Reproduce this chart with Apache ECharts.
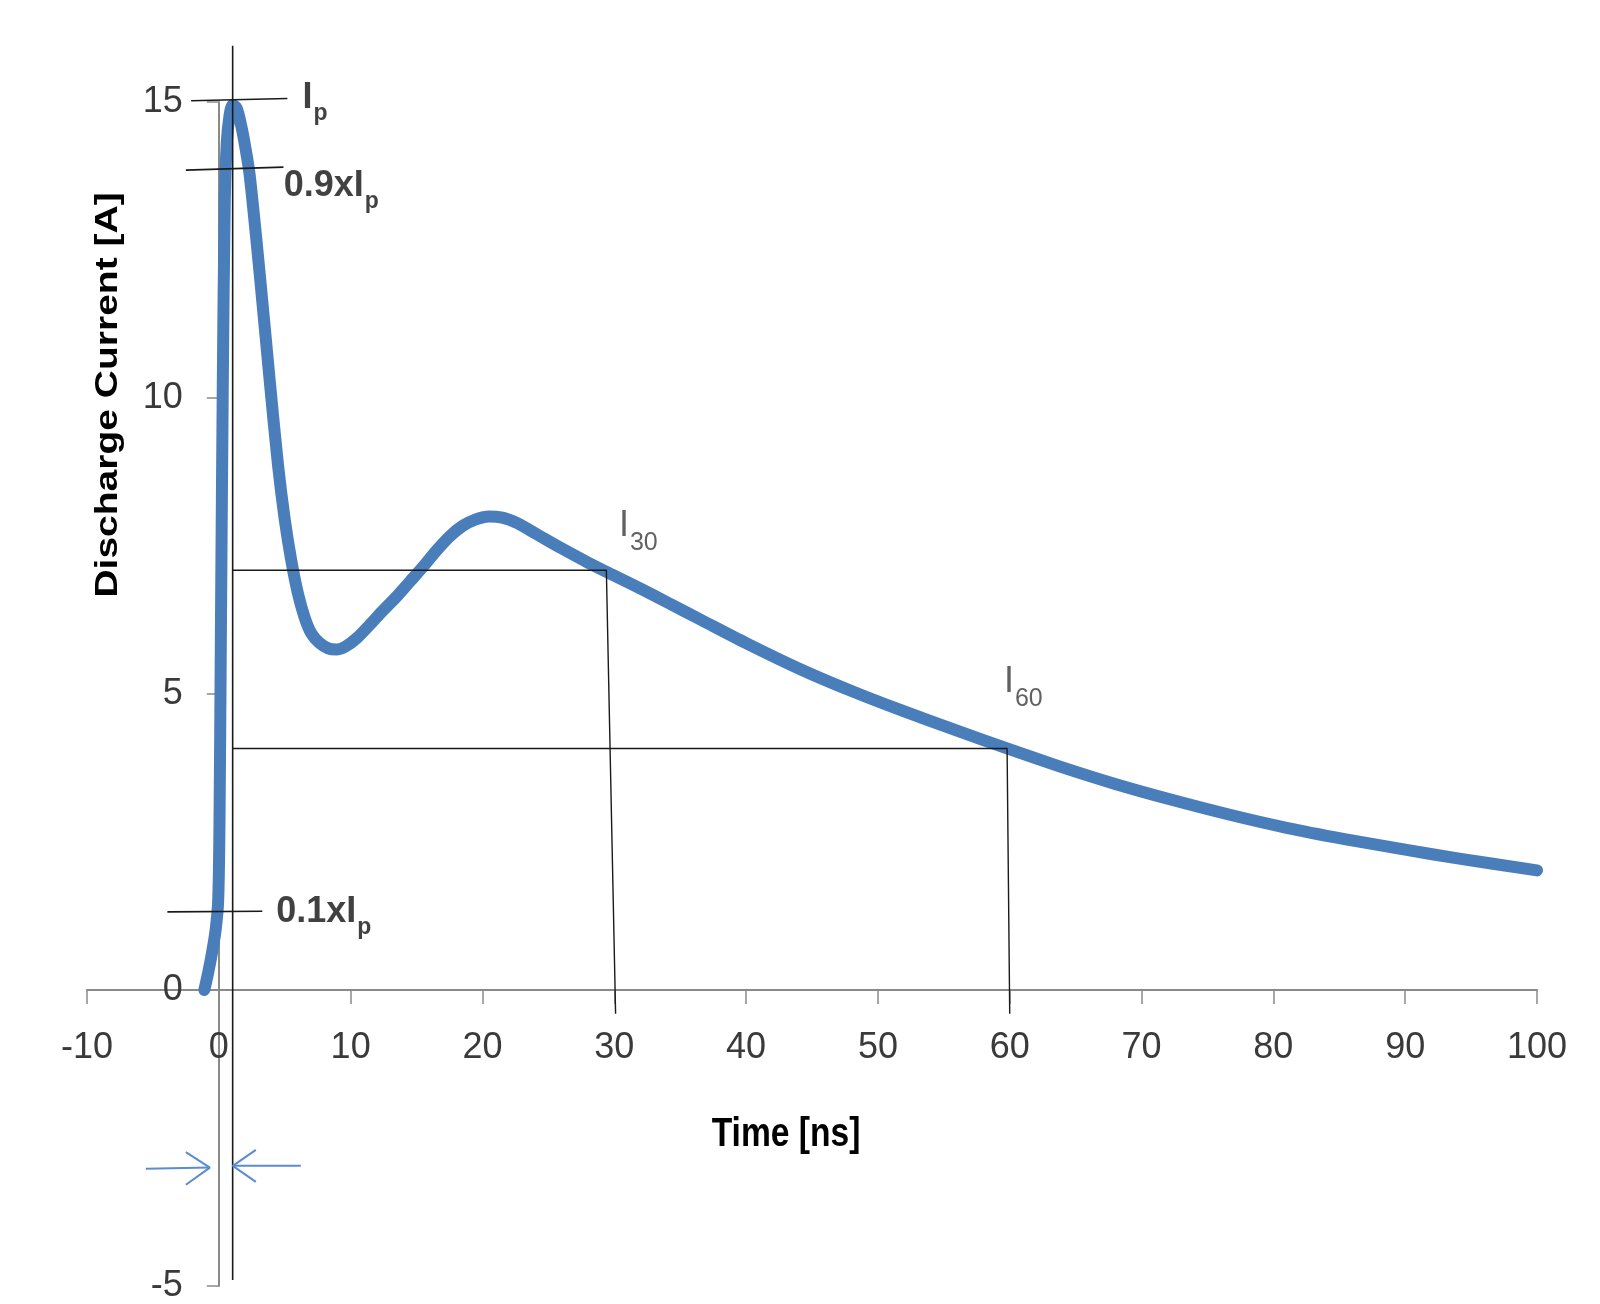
<!DOCTYPE html>
<html>
<head>
<meta charset="utf-8">
<script src="https://cdn.jsdelivr.net/npm/echarts@6/dist/echarts.min.js"></script>
<style>
html,body{margin:0;padding:0;background:#fff;}
#chart{width:1600px;height:1304px;}
</style>
</head>
<body>
<div id="chart"></div>
<script>
// ---- data (time in ns, current in A) ----
const timeNs = [-1.1, -0.8, -0.5, -0.25, -0.05, 0.05, 0.15, 0.3, 0.45, 0.6, 0.8, 1.05, 1.35, 1.7, 2.0, 2.35, 3.1, 3.9, 4.5, 5.0, 5.5, 6.0, 6.5, 7.0, 7.6, 8.3, 8.9, 9.6, 10.5, 11.5, 12.5, 13.5, 14.5, 15.5, 16.5, 17.5, 18.5, 19.5, 20.5, 21.5, 22.5, 23.5, 24.5, 26.0, 28.0, 30.0, 32.0, 34.0, 36.6, 40.0, 44.2, 48.0, 51.7, 56.0, 59.8, 64.0, 68.0, 72.0, 76.7, 81.0, 85.4, 90.0, 94.1, 100];
const currentA = [0, 0.3, 0.65, 1.0, 1.5, 2.8, 5.8, 10.2, 13.3, 14.3, 14.75, 14.95, 14.9, 14.6, 14.25, 13.75, 12.1, 10.2, 8.85, 7.95, 7.25, 6.7, 6.3, 6.03, 5.87, 5.77, 5.75, 5.8, 5.95, 6.18, 6.42, 6.65, 6.9, 7.15, 7.42, 7.66, 7.84, 7.95, 8.0, 7.98, 7.9, 7.78, 7.65, 7.46, 7.22, 7.0, 6.78, 6.55, 6.25, 5.86, 5.41, 5.05, 4.73, 4.38, 4.08, 3.76, 3.48, 3.23, 2.96, 2.74, 2.55, 2.37, 2.22, 2.02];

// axis ranges / ticks
const xRange = [-10, 100];
const xStep = 10;
const yRange = [-5, 15];
const yStep = 5;

// annotation guide lines (data coordinates)
const peakMarker = [[1.05, -4.9], [1.05, 15.95]];
const ipLine = [[-2.1, 15.02], [5.2, 15.06]];
const ip90Line = [[-2.5, 13.85], [4.9, 13.9]];
const ip10Line = [[-3.9, 1.32], [3.3, 1.33]];
const i30Guide = [[1.05, 7.09], [29.4, 7.09], [30.1, -0.4]];
const i60Guide = [[1.05, 4.08], [59.8, 4.08], [60.0, -0.4]];
const arrowLeftShaft = [[-5.54, -3.02], [-0.68, -3.0]];
const arrowLeftHead = [[-2.5, -2.74], [-0.68, -3.0], [-2.5, -3.29]];
const arrowRightShaft = [[6.22, -2.97], [1.06, -2.97]];
const arrowRightHead = [[2.81, -2.70], [1.06, -2.97], [2.81, -3.24]];

// annotation texts and their anchors (data coordinates)
const annoMain = ['I', '0.9xI', '0.1xI', 'I', 'I'];
const annoSub = ['p', 'p', 'p', '30', '60'];
const annoAnchor = [[6.35, 15.03], [4.93, 13.55], [4.36, 1.28], [30.35, 7.78], [59.56, 5.15]];
const annoBold = [true, true, true, false, false];

const FONT = "'Liberation Sans', Arial, sans-serif";

// grid box (pixels)
const GRID = {left: 87, right: 63, top: 102, bottom: 18};
const W = 1600, H = 1304;
const gridW = W - GRID.left - GRID.right;
const gridH = H - GRID.top - GRID.bottom;
// shift axes so that they cross at the origin (0,0)
const xAxisOffset = -gridH * (0 - yRange[0]) / (yRange[1] - yRange[0]);
const yAxisOffset = -gridW * (0 - xRange[0]) / (xRange[1] - xRange[0]);

const chart = echarts.init(document.getElementById('chart'), null, {renderer: 'canvas'});

function guide(data, color, width) {
  return {
    type: 'line', data: data, symbol: 'none', clip: false, silent: true, z: 5,
    lineStyle: {color: color, width: width}, animation: false
  };
}

const labelData = annoMain.map((m, i) => {
  const bold = annoBold[i];
  return {
    value: annoAnchor[i],
    label: {
      show: true, position: 'right', distance: 0,
      formatter: '{m|' + m + '}{s|' + annoSub[i] + '}',
      rich: bold ? {
        m: {fontFamily: FONT, fontWeight: 'bold', fontSize: 36, lineHeight: 40, verticalAlign: 'top', color: '#111'},
        s: {fontFamily: FONT, fontWeight: 'bold', fontSize: 23, lineHeight: 26, padding: [22, 0, 0, 1], verticalAlign: 'top', color: '#111'}
      } : {
        m: {fontFamily: FONT, fontSize: 36, lineHeight: 42, verticalAlign: 'top', color: '#3a3a3a'},
        s: {fontFamily: FONT, fontSize: 25, lineHeight: 28, padding: [22, 0, 0, 1], verticalAlign: 'top', color: '#3a3a3a'}
      }
    }
  };
});

const option = {
  animation: false,
  backgroundColor: '#ffffff',
  grid: Object.assign({containLabel: false, outerBoundsMode: 'none'}, GRID),
  xAxis: {
    type: 'value', min: xRange[0], max: xRange[1], interval: xStep,
    position: 'bottom', offset: xAxisOffset,
    axisLine: {show: true, onZero: false, lineStyle: {color: '#8a8a8a', width: 2}},
    axisTick: {show: true, length: 14, lineStyle: {color: '#8a8a8a', width: 1.5}},
    axisLabel: {margin: 40, fontSize: 36, fontFamily: FONT, color: '#3a3a3a', showMinLabel: true, showMaxLabel: true, hideOverlap: false},
    splitLine: {show: false}
  },
  yAxis: {
    type: 'value', min: yRange[0], max: yRange[1], interval: yStep,
    position: 'left', offset: yAxisOffset,
    axisLine: {show: true, onZero: false, lineStyle: {color: '#8a8a8a', width: 2}},
    axisTick: {show: true, length: 12, lineStyle: {color: '#8a8a8a', width: 1.5}},
    axisLabel: {margin: 36, fontSize: 36, fontFamily: FONT, color: '#3a3a3a', showMinLabel: true, showMaxLabel: true, hideOverlap: false},
    splitLine: {show: false}
  },
  graphic: [
    {type: 'text', x: 109, y: 395, rotation: Math.PI / 2, scaleY: 0.78,
     style: {text: 'Discharge Current [A]', fontFamily: FONT, fontWeight: 'bold', fontSize: 39, fill: '#000', align: 'center', verticalAlign: 'middle'}},
    {type: 'text', x: 786, y: 1135, scaleX: 0.84,
     style: {text: 'Time [ns]', fontFamily: FONT, fontWeight: 'bold', fontSize: 40, fill: '#000', align: 'center', verticalAlign: 'middle'}}
  ],
  series: [
    {
      type: 'line', name: 'Discharge current',
      data: timeNs.map((t, i) => [t, currentA[i]]),
      smooth: 0.3, symbol: 'none', z: 2,
      lineStyle: {color: '#4A7EBB', width: 12, cap: 'round', join: 'round'}
    },
    guide(peakMarker, '#1a1a1a', 1.6),
    guide(ipLine, '#1a1a1a', 1.6),
    guide(ip90Line, '#1a1a1a', 1.6),
    guide(ip10Line, '#1a1a1a', 1.6),
    guide(i30Guide, '#1a1a1a', 1.4),
    guide(i60Guide, '#1a1a1a', 1.4),
    guide(arrowLeftShaft, '#5b8bd0', 2),
    guide(arrowLeftHead, '#5b8bd0', 2),
    guide(arrowRightShaft, '#5b8bd0', 2),
    guide(arrowRightHead, '#5b8bd0', 2),
    {
      type: 'scatter', data: labelData, symbolSize: 0, silent: true, z: 6, clip: false
    }
  ]
};
chart.setOption(option);
</script>
</body>
</html>
